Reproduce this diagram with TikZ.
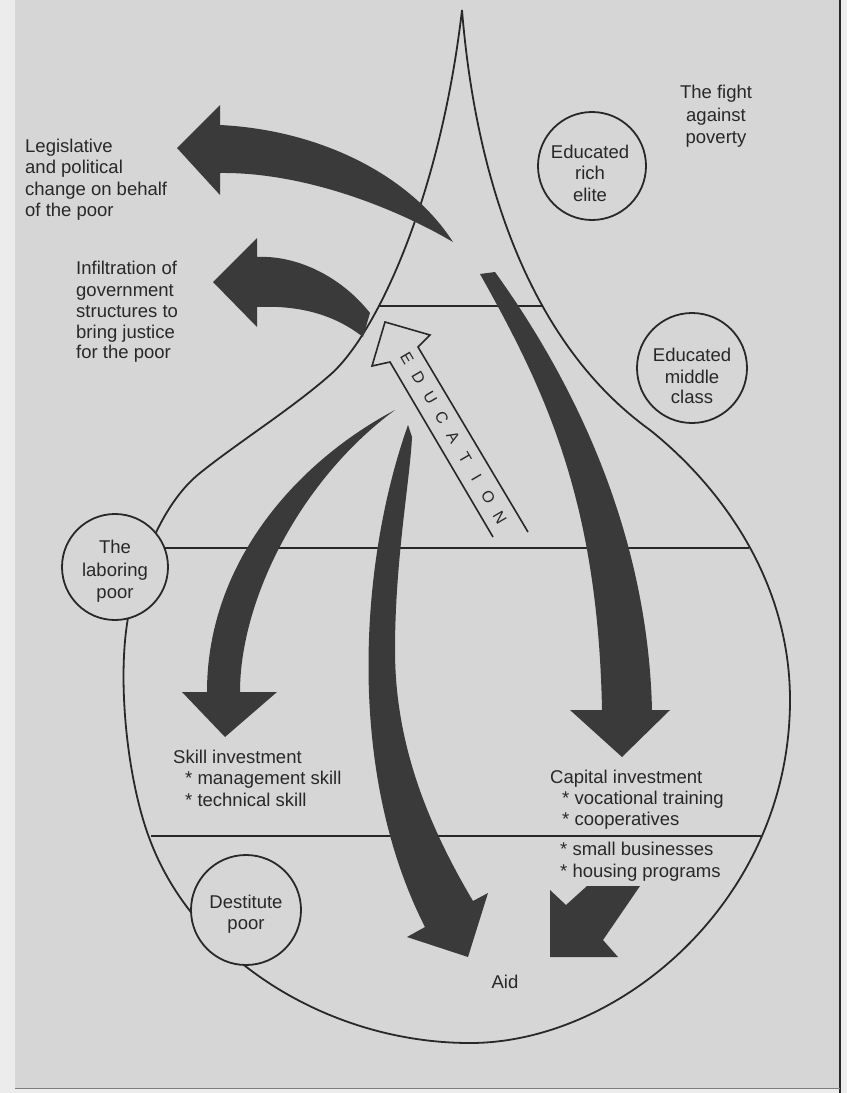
\documentclass[tikz,border=0pt]{standalone}
\usepackage{fontspec}
\setmainfont{Liberation Sans}
\definecolor{bg}{RGB}{214,214,214}
\definecolor{paper}{RGB}{236,236,236}
\definecolor{ink}{RGB}{40,40,40}
\definecolor{arr}{RGB}{58,58,58}
\newcommand{\lnL}[4]{\node[lbl, anchor=base west] (#1) at (#2,#3) {#4};}
\newcommand{\lnC}[4]{\node[lbl, anchor=base] (#1) at (#2,#3) {#4};}
\begin{document}
\begin{tikzpicture}[x=1pt,y=-1pt,
  outline/.style={draw=ink, line width=1.8pt},
  darrow/.style={fill=arr},
  ring/.style={circle, draw=ink, line width=1.8pt, fill=bg, inner sep=0pt},
  lbl/.style={font=\fontsize{18.5}{21.5}\selectfont, text=ink, inner sep=0pt},
  letter/.style={font=\fontsize{16}{16}\selectfont, text=ink, inner sep=0pt, rotate=-59.6}]
\useasboundingbox (0,0) rectangle (847,1093);
\fill[paper] (0,0) rectangle (847,1093);
\fill[bg] (15,0) rectangle (840,1088);
\draw[ink, line width=1.2pt] (840,0) -- (840,1093);
\draw[ink!60, line width=0.8pt] (15,1088) -- (840,1088);

% onion outline
\coordinate (tip) at (462,10);
\draw[outline] (tip)
  .. controls (475,170) and (525,340) .. (650,430)
  .. controls (720,486) and (790,580) .. (790,700)
  .. controls (790,900) and (620,1043) .. (470,1043)
  .. controls (330,1043) and (195,960) .. (150,840)
  .. controls (127,780) and (117,680) .. (128,618)
  .. controls (138,570) and (160,505) .. (200,473)
  .. controls (240,441) and (290,410) .. (330,375)
  .. controls (375,336) and (440,200) .. (tip);

% class boundaries
\draw[outline] (379,306) -- (543,306);
\draw[outline] (150,548) -- (749,548);
\draw[outline] (151,836) -- (761,836);

% education arrow (hollow)
\draw[outline, line width=1.6pt, line join=miter]
  (493,537) -- (390,362) -- (372,366) -- (385,322) -- (430,335) -- (418,347) -- (528,532);
\foreach \ch [count=\i from 0] in {E,D,U,C,A,T,I,O,N}
  \node[letter] (edu\i) at (407+11.6*\i, 358+19.9*\i) {\ch};

% legislative arrow
\fill[darrow] (453,242) .. controls (410,175) and (320,130) .. (220,125)
  -- (220,105) -- (177,148) -- (220,195) -- (220,173)
  .. controls (300,172) and (390,205) .. (453,242) -- cycle;

% infiltration arrow
\fill[darrow] (370,313) .. controls (340,275) and (295,255) .. (257,257)
  -- (257,238) -- (213,282) -- (257,327) -- (257,307)
  .. controls (300,305) and (335,315) .. (363,337) -- cycle;

% capital investment arrow
\fill[darrow] (495,272) -- (480,274)
  .. controls (545,390) and (598,500) .. (602,710)
  -- (570,710) -- (622,757) -- (670,710) -- (652,710)
  .. controls (648,540) and (580,390) .. (495,272) -- cycle;

% skill investment arrow
\fill[darrow] (395,410) .. controls (300,460) and (207,560) .. (207,692)
  -- (182,692) -- (225,737) -- (277,692) -- (240,692)
  .. controls (240,600) and (300,480) .. (395,410) -- cycle;

% aid arrow (long)
\fill[darrow] (408,425) .. controls (360,560) and (345,770) .. (425,927)
  -- (407,937) -- (468,957) -- (488,893) -- (473,901)
  .. controls (425,820) and (395,740) .. (395,650)
  .. controls (395,560) and (410,480) .. (412,437) -- cycle;

% small aid arrow
\fill[darrow] (550,957) -- (550,890) -- (566,905) -- (587,886) -- (640,886) -- (603,940) -- (618,957) -- cycle;

% circles
\node[ring, minimum size=108pt] (elite) at (592,166) {};
\node[ring, minimum size=110pt] (middle) at (692,368) {};
\node[ring, minimum size=106pt] (labor) at (115,567) {};
\node[ring, minimum size=110pt] (dest) at (246,910) {};

% texts
\lnC{f1}{716}{98}{The fight}
\lnC{f2}{716}{121}{against}
\lnC{f3}{716}{143}{poverty}

\lnL{l1}{25}{152}{Legislative}
\lnL{l2}{25}{173}{and political}
\lnL{l3}{25}{195}{change on behalf}
\lnL{l4}{25}{216}{of the poor}

\lnL{i1}{76}{274}{Infiltration of}
\lnL{i2}{76}{296}{government}
\lnL{i3}{76}{317}{structures to}
\lnL{i4}{76}{338}{bring justice}
\lnL{i5}{76}{358}{for the poor}

\lnC{e1}{590}{158}{Educated}
\lnC{e2}{590}{179}{rich}
\lnC{e3}{590}{201}{elite}

\lnC{m1}{692}{361}{Educated}
\lnC{m2}{692}{383}{middle}
\lnC{m3}{692}{403}{class}

\lnC{p1}{115}{553}{The}
\lnC{p2}{115}{576}{laboring}
\lnC{p3}{115}{598}{poor}

\lnC{d1}{246}{908}{Destitute}
\lnC{d2}{246}{929}{poor}

\lnL{s1}{173}{763}{Skill investment}
\lnL{s2}{185}{784}{* management skill}
\lnL{s3}{185}{806}{* technical skill}

\lnL{c1}{550}{783}{Capital investment}
\lnL{c2}{562}{804}{* vocational training}
\lnL{c3}{562}{825}{* cooperatives}
\lnL{c4}{560}{855}{* small businesses}
\lnL{c5}{560}{877}{* housing programs}

\lnC{aid}{505}{988}{Aid}
\end{tikzpicture}
\end{document}
